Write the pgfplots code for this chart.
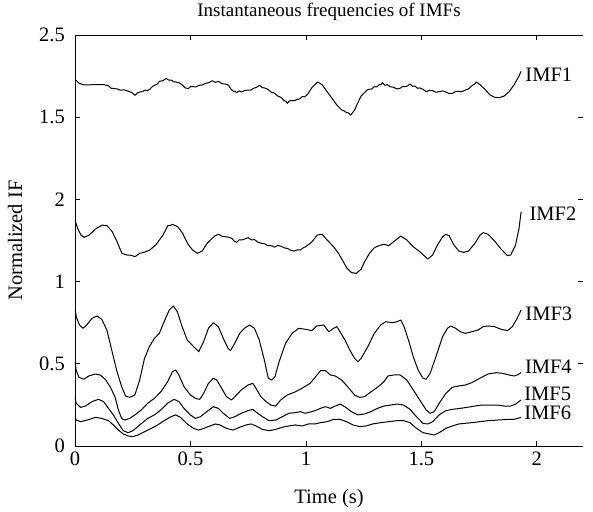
\documentclass[border=0pt]{standalone}
\usepackage{fontspec}
\setmainfont{Liberation Serif}
\usepackage{pgfplots}
\pgfplotsset{compat=1.18}
\newcommand{\lbl}{\fontsize{20.5}{24}\selectfont}
\begin{document}
\begin{tikzpicture}
\useasboundingbox (-75pt,-65pt) rectangle (518pt,446pt);
\begin{axis}[
    scale only axis,
    width=508pt, height=411pt,
    xmin=0, xmax=2.2, ymin=0, ymax=2.5,
    enlargelimits=false,
    axis x line=box, axis y line=left,
    axis line style={-, line width=0.8pt},
    xtick={0,0.5,1,1.5,2},
    xticklabels={0,0.5,1,1.5,2},
    ytick={0,0.5,1,1.5,2,2.5},
    yticklabels={0,0.5,1,2,1.5,2.5},
    tick align=inside,
    major tick length=5pt,
    tick style={line width=0.8pt, black},
    tick label style={font=\lbl},
    xticklabel style={inner sep=0pt, anchor=north, yshift=-6pt},
    yticklabel style={inner sep=0pt, anchor=east, xshift=-10pt},
    title={Instantaneous frequencies of IMFs},
    every axis title/.style={at={(axis description cs:0.5,1)}, anchor=center, yshift=23pt, font=\fontsize{19}{22}\selectfont},
    xlabel={Time (s)},
    every axis x label/.style={at={(axis description cs:0.5,0)}, anchor=center, yshift=-53pt, font=\lbl},
    ylabel={Normalized IF},
    every axis y label/.style={at={(axis description cs:0,0.5)}, rotate=90, anchor=center, yshift=60pt, font=\lbl},
    imf/.style={black, mark=none, line width=1pt, line join=round},
]
% IMF1
\addplot[imf] coordinates {
(0,2.230)(0.018,2.206)(0.040,2.196)(0.082,2.198)(0.125,2.198)(0.146,2.190)(0.157,2.176)(0.168,2.174)(0.182,2.172)(0.196,2.165)(0.214,2.166)(0.232,2.157)(0.246,2.150)(0.260,2.133)(0.270,2.148)(0.281,2.153)(0.292,2.156)(0.303,2.165)(0.314,2.162)(0.324,2.170)(0.335,2.186)(0.345,2.194)(0.356,2.202)(0.366,2.218)(0.380,2.222)(0.395,2.236)(0.405,2.226)(0.416,2.226)(0.427,2.216)(0.438,2.214)(0.452,2.209)(0.466,2.194)(0.478,2.178)(0.491,2.174)(0.500,2.186)(0.509,2.186)(0.523,2.184)(0.537,2.194)(0.551,2.196)(0.565,2.206)(0.580,2.210)(0.594,2.222)(0.608,2.212)(0.622,2.218)(0.636,2.204)(0.651,2.202)(0.665,2.194)(0.676,2.170)(0.686,2.157)(0.693,2.159)(0.700,2.149)(0.711,2.160)(0.722,2.153)(0.736,2.163)(0.750,2.165)(0.761,2.165)(0.771,2.174)(0.786,2.182)(0.800,2.194)(0.811,2.180)(0.821,2.178)(0.835,2.170)(0.849,2.153)(0.864,2.146)(0.878,2.129)(0.892,2.120)(0.906,2.101)(0.913,2.098)(0.920,2.084)(0.928,2.099)(0.935,2.101)(0.949,2.100)(0.963,2.109)(0.974,2.112)(0.984,2.125)(0.995,2.124)(1.006,2.137)(1.027,2.182)(1.051,2.214)(1.070,2.198)(1.092,2.155)(1.113,2.115)(1.134,2.074)(1.155,2.044)(1.166,2.038)(1.176,2.028)(1.185,2.026)(1.194,2.013)(1.211,2.044)(1.225,2.088)(1.239,2.129)(1.254,2.149)(1.265,2.166)(1.275,2.170)(1.286,2.172)(1.296,2.186)(1.307,2.184)(1.317,2.198)(1.324,2.196)(1.331,2.210)(1.342,2.194)(1.352,2.198)(1.366,2.185)(1.380,2.182)(1.394,2.172)(1.408,2.176)(1.419,2.187)(1.430,2.186)(1.440,2.190)(1.451,2.202)(1.462,2.188)(1.472,2.190)(1.483,2.176)(1.493,2.178)(1.507,2.170)(1.521,2.155)(1.535,2.164)(1.549,2.161)(1.563,2.152)(1.577,2.155)(1.592,2.160)(1.606,2.153)(1.620,2.144)(1.634,2.145)(1.648,2.156)(1.662,2.157)(1.676,2.155)(1.690,2.165)(1.704,2.172)(1.718,2.190)(1.729,2.200)(1.739,2.214)(1.754,2.198)(1.775,2.170)(1.796,2.137)(1.817,2.121)(1.838,2.119)(1.859,2.129)(1.880,2.155)(1.901,2.196)(1.923,2.251)(1.932,2.279)
};
% IMF2
\addplot[imf] coordinates {
(0,1.375)(0.011,1.324)(0.026,1.283)(0.040,1.269)(0.061,1.283)(0.089,1.320)(0.118,1.344)(0.139,1.340)(0.161,1.304)(0.182,1.243)(0.203,1.172)(0.224,1.162)(0.242,1.160)(0.260,1.152)(0.281,1.172)(0.303,1.180)(0.324,1.192)(0.352,1.227)(0.381,1.283)(0.402,1.340)(0.413,1.342)(0.423,1.348)(0.445,1.334)(0.466,1.294)(0.487,1.233)(0.509,1.192)(0.530,1.172)(0.551,1.186)(0.572,1.233)(0.594,1.263)(0.608,1.280)(0.622,1.288)(0.636,1.276)(0.651,1.273)(0.665,1.270)(0.679,1.263)(0.690,1.245)(0.700,1.239)(0.711,1.254)(0.722,1.253)(0.736,1.260)(0.750,1.267)(0.764,1.254)(0.778,1.255)(0.792,1.240)(0.807,1.233)(0.821,1.230)(0.835,1.219)(0.850,1.218)(0.864,1.210)(0.878,1.220)(0.892,1.215)(0.906,1.205)(0.920,1.202)(0.935,1.190)(0.949,1.186)(0.963,1.193)(0.977,1.192)(0.988,1.205)(0.999,1.212)(1.027,1.243)(1.049,1.283)(1.070,1.288)(1.092,1.253)(1.120,1.212)(1.141,1.172)(1.162,1.121)(1.176,1.085)(1.197,1.055)(1.218,1.050)(1.239,1.075)(1.254,1.120)(1.275,1.172)(1.296,1.206)(1.317,1.219)(1.338,1.227)(1.359,1.219)(1.380,1.243)(1.411,1.277)(1.437,1.253)(1.465,1.212)(1.493,1.182)(1.528,1.137)(1.549,1.162)(1.570,1.223)(1.592,1.273)(1.606,1.288)(1.620,1.279)(1.641,1.223)(1.662,1.186)(1.683,1.178)(1.704,1.186)(1.732,1.233)(1.754,1.283)(1.768,1.298)(1.789,1.288)(1.817,1.247)(1.845,1.198)(1.873,1.158)(1.887,1.162)(1.908,1.223)(1.923,1.324)(1.932,1.425)
};
% IMF3
\addplot[imf] coordinates {
(0,0.827)(0.008,0.775)(0.020,0.735)(0.035,0.716)(0.050,0.735)(0.074,0.777)(0.095,0.791)(0.116,0.770)(0.138,0.706)(0.159,0.584)(0.180,0.462)(0.202,0.361)(0.219,0.304)(0.237,0.296)(0.259,0.310)(0.280,0.401)(0.301,0.533)(0.322,0.604)(0.344,0.655)(0.365,0.685)(0.386,0.756)(0.408,0.827)(0.426,0.852)(0.443,0.817)(0.464,0.726)(0.486,0.645)(0.514,0.604)(0.536,0.574)(0.557,0.635)(0.578,0.716)(0.599,0.750)(0.621,0.726)(0.642,0.655)(0.663,0.594)(0.673,0.580)(0.692,0.625)(0.713,0.685)(0.734,0.716)(0.756,0.736)(0.777,0.716)(0.798,0.645)(0.820,0.523)(0.837,0.412)(0.852,0.401)(0.866,0.422)(0.884,0.513)(0.912,0.625)(0.940,0.685)(0.969,0.716)(0.997,0.710)(1.026,0.702)(1.047,0.730)(1.077,0.736)(1.099,0.695)(1.120,0.716)(1.134,0.726)(1.148,0.695)(1.169,0.645)(1.190,0.584)(1.211,0.533)(1.225,0.513)(1.239,0.533)(1.268,0.604)(1.296,0.685)(1.324,0.736)(1.345,0.756)(1.373,0.750)(1.394,0.756)(1.411,0.766)(1.425,0.726)(1.444,0.645)(1.465,0.543)(1.486,0.462)(1.507,0.412)(1.521,0.406)(1.538,0.442)(1.563,0.543)(1.592,0.665)(1.613,0.716)(1.627,0.730)(1.648,0.716)(1.669,0.695)(1.690,0.685)(1.718,0.695)(1.746,0.706)(1.768,0.726)(1.789,0.730)(1.817,0.726)(1.845,0.710)(1.873,0.702)(1.894,0.726)(1.915,0.777)(1.932,0.827)
};
% IMF4
\addplot[imf] coordinates {
(0,0.513)(0.005,0.462)(0.017,0.418)(0.038,0.406)(0.060,0.426)(0.088,0.438)(0.109,0.432)(0.131,0.406)(0.152,0.361)(0.173,0.300)(0.188,0.219)(0.202,0.168)(0.216,0.158)(0.237,0.168)(0.259,0.189)(0.287,0.219)(0.315,0.260)(0.344,0.290)(0.372,0.330)(0.401,0.391)(0.422,0.452)(0.436,0.462)(0.450,0.432)(0.472,0.361)(0.500,0.310)(0.521,0.290)(0.540,0.284)(0.557,0.320)(0.578,0.381)(0.599,0.412)(0.614,0.401)(0.635,0.351)(0.656,0.300)(0.678,0.280)(0.699,0.310)(0.720,0.341)(0.749,0.371)(0.770,0.381)(0.784,0.351)(0.805,0.300)(0.827,0.270)(0.848,0.249)(0.869,0.243)(0.891,0.280)(0.919,0.310)(0.955,0.330)(0.983,0.351)(1.018,0.381)(1.040,0.418)(1.063,0.458)(1.085,0.458)(1.106,0.432)(1.127,0.426)(1.155,0.401)(1.183,0.357)(1.211,0.310)(1.232,0.296)(1.254,0.300)(1.282,0.330)(1.310,0.357)(1.338,0.391)(1.355,0.426)(1.380,0.432)(1.408,0.432)(1.437,0.401)(1.465,0.341)(1.493,0.280)(1.521,0.219)(1.538,0.199)(1.556,0.209)(1.577,0.260)(1.606,0.320)(1.634,0.357)(1.662,0.365)(1.690,0.371)(1.718,0.385)(1.739,0.401)(1.761,0.418)(1.789,0.438)(1.824,0.446)(1.852,0.442)(1.880,0.432)(1.901,0.426)(1.915,0.432)(1.932,0.446)
};
% IMF5
\addplot[imf] coordinates {
(0,0.300)(0.005,0.260)(0.024,0.235)(0.045,0.243)(0.074,0.270)(0.102,0.284)(0.124,0.270)(0.145,0.229)(0.166,0.189)(0.188,0.138)(0.209,0.093)(0.230,0.081)(0.251,0.093)(0.280,0.128)(0.315,0.168)(0.344,0.189)(0.372,0.219)(0.401,0.260)(0.429,0.284)(0.450,0.270)(0.472,0.229)(0.500,0.189)(0.521,0.168)(0.543,0.178)(0.571,0.209)(0.599,0.239)(0.621,0.229)(0.642,0.199)(0.670,0.168)(0.692,0.178)(0.720,0.199)(0.749,0.215)(0.770,0.223)(0.791,0.199)(0.812,0.178)(0.841,0.154)(0.869,0.158)(0.898,0.178)(0.926,0.199)(0.955,0.203)(0.976,0.209)(0.997,0.199)(1.026,0.209)(1.047,0.219)(1.063,0.229)(1.085,0.239)(1.106,0.229)(1.127,0.243)(1.148,0.255)(1.169,0.239)(1.197,0.209)(1.225,0.189)(1.254,0.195)(1.282,0.209)(1.310,0.229)(1.338,0.243)(1.366,0.249)(1.394,0.255)(1.423,0.249)(1.451,0.223)(1.479,0.178)(1.507,0.138)(1.528,0.134)(1.549,0.148)(1.577,0.189)(1.606,0.215)(1.634,0.223)(1.669,0.229)(1.697,0.235)(1.732,0.243)(1.761,0.249)(1.796,0.249)(1.831,0.249)(1.859,0.243)(1.887,0.243)(1.908,0.255)(1.932,0.280)
};
% IMF6
\addplot[imf] coordinates {
(0,0.178)(0.005,0.158)(0.024,0.148)(0.053,0.158)(0.088,0.174)(0.116,0.168)(0.145,0.154)(0.166,0.128)(0.188,0.097)(0.209,0.073)(0.230,0.061)(0.251,0.057)(0.273,0.067)(0.301,0.087)(0.330,0.107)(0.358,0.128)(0.386,0.154)(0.415,0.178)(0.436,0.189)(0.457,0.174)(0.486,0.134)(0.514,0.107)(0.536,0.097)(0.557,0.107)(0.585,0.122)(0.607,0.134)(0.628,0.128)(0.656,0.107)(0.685,0.097)(0.713,0.114)(0.741,0.128)(0.763,0.134)(0.784,0.122)(0.812,0.101)(0.841,0.093)(0.869,0.101)(0.898,0.114)(0.926,0.122)(0.955,0.128)(0.983,0.122)(1.011,0.134)(1.042,0.135)(1.063,0.142)(1.092,0.148)(1.120,0.162)(1.148,0.162)(1.176,0.148)(1.204,0.128)(1.232,0.118)(1.261,0.122)(1.289,0.134)(1.324,0.142)(1.359,0.148)(1.394,0.154)(1.423,0.154)(1.451,0.142)(1.479,0.107)(1.507,0.081)(1.535,0.073)(1.556,0.067)(1.577,0.081)(1.606,0.107)(1.634,0.122)(1.662,0.134)(1.690,0.138)(1.718,0.142)(1.754,0.148)(1.789,0.154)(1.831,0.158)(1.873,0.162)(1.901,0.162)(1.932,0.174)
};
% right-hand ticks (the right axis line itself is not drawn)
\pgfplotsinvokeforeach{0.5,1,1.5,2}{
  \draw[line width=0.8pt] (axis cs:2.2,#1) -- ++(-5pt,0);
}
% curve labels
\node[anchor=west, font=\lbl, inner sep=0pt] at (axis cs:1.950,2.257) {IMF1};
\node[anchor=west, font=\lbl, inner sep=0pt] at (axis cs:1.968,1.415) {IMF2};
\node[anchor=west, font=\lbl, inner sep=0pt] at (axis cs:1.950,0.803) {IMF3};
\node[anchor=west, font=\lbl, inner sep=0pt] at (axis cs:1.948,0.482) {IMF4};
\node[anchor=west, font=\lbl, inner sep=0pt] at (axis cs:1.945,0.316) {IMF5};
\node[anchor=west, font=\lbl, inner sep=0pt] at (axis cs:1.945,0.199) {IMF6};
\end{axis}
\end{tikzpicture}
\end{document}
